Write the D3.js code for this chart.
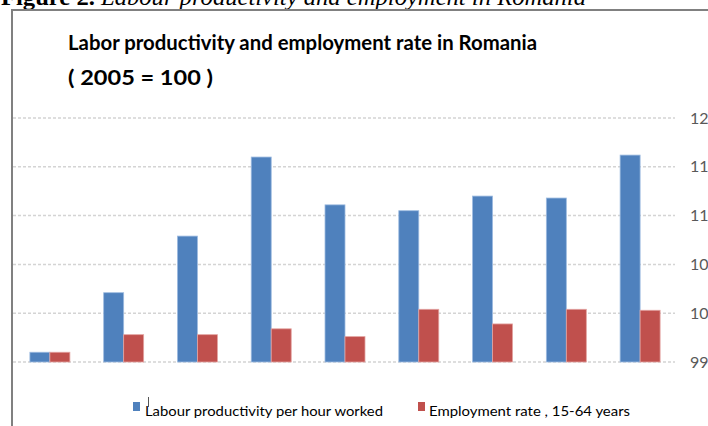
<!DOCTYPE html>
<html>
<head>
<meta charset="utf-8">
<script src="https://cdn.jsdelivr.net/npm/d3@7"></script>
<style>
  html, body { margin: 0; padding: 0; background: #fff; overflow: hidden; }
  svg { display: block; }
</style>
</head>
<body>
<svg id="chart" width="708" height="426"></svg>
<script>
// ---- data ----
const years = ["2005","2006","2007","2008","2009","2010","2011","2012","2013"];
const productivity = [100, 106.1, 111.9, 120.0, 115.1, 114.5, 116.0, 115.8, 120.2];
const employment   = [100, 101.8, 101.8, 102.4, 101.6, 104.4, 102.9, 104.4, 104.3];
const yTicks = [99, 104, 109, 114, 119, 124];
const seriesNames = ["Labour productivity per hour worked", "Employment rate , 15-64 years"];
const seriesColors = ["#4f81bd", "#c0504d"];
const seriesStrokes = ["#9dbbe0", "#e3a3a1"];

const svg = d3.select("#chart");

// figure caption (cut off at top)
const cap = svg.append("text")
  .attr("x", 1).attr("y", 5)
  .attr("font-family", "'Liberation Serif', 'Times New Roman', serif")
  .attr("font-size", 24).attr("fill", "#000")
  .attr("textLength", 585).attr("lengthAdjust", "spacingAndGlyphs");
cap.append("tspan").attr("font-weight", "bold").text("Figure 2. ");
cap.append("tspan").attr("font-style", "italic").text("Labour productivity and employment in Romania");

// frame
svg.append("path")
  .attr("d", "M12,430 L12,10 L712,10")
  .attr("fill", "none").attr("stroke", "#808080").attr("stroke-width", 2);

// title
svg.append("text")
  .attr("x", 68).attr("y", 50)
  .attr("font-family", "Lato, 'Open Sans', sans-serif")
  .attr("font-weight", "bold").attr("font-size", 21.5).attr("fill", "#000")
  .attr("textLength", 469).attr("lengthAdjust", "spacingAndGlyphs")
  .text("Labor productivity and employment rate in Romania");
svg.append("text")
  .attr("x", 68).attr("y", 85)
  .attr("font-family", "Lato, 'Open Sans', sans-serif")
  .attr("font-weight", "bold").attr("font-size", 21.5).attr("fill", "#000")
  .attr("textLength", 145).attr("lengthAdjust", "spacingAndGlyphs")
  .text("( 2005 = 100 )");

// scales
const x0 = d3.scaleBand().domain(years).range([13, 677]).paddingInner(0.458).paddingOuter(0.229);
const x1 = d3.scaleBand().domain([0, 1]).range([0, x0.bandwidth()]);
const y = d3.scaleLinear().domain([99, 124]).range([362, 118]);

// gridlines
svg.append("g").selectAll("line").data(yTicks).join("line")
  .attr("x1", 13).attr("x2", 675)
  .attr("y1", d => y(d)).attr("y2", d => y(d))
  .attr("stroke", "#d4d4d4").attr("stroke-width", 1.5).attr("stroke-dasharray", "3,2");

// right axis labels (cut off by the edge)
const axis = d3.axisRight(y).tickValues(yTicks).tickSize(0).tickPadding(0);
const gAxis = svg.append("g").attr("transform", "translate(690,0)").call(axis);
gAxis.select(".domain").remove();
gAxis.selectAll("text")
  .attr("font-family", "Lato, 'Open Sans', sans-serif")
  .attr("font-size", 16).attr("fill", "#595959");

// bars
const rows = years.map((yr, i) => ({ yr, vals: [productivity[i], employment[i]] }));
const groups = svg.append("g").selectAll("g").data(rows).join("g")
  .attr("transform", d => `translate(${x0(d.yr)},0)`);
groups.selectAll("rect").data(d => d.vals.map((v, k) => ({ v, k }))).join("rect")
  .attr("x", d => x1(d.k))
  .attr("width", x1.bandwidth())
  .attr("y", d => y(d.v))
  .attr("height", d => y(99) - y(d.v))
  .attr("fill", d => seriesColors[d.k])
  .attr("stroke", d => seriesStrokes[d.k]).attr("stroke-width", 0.8);

// legend
const legendX = [133, 418];
const legendTextX = [145, 429];
const legendLen = [238, 201];
const lg = svg.append("g");
seriesNames.forEach((name, k) => {
  lg.append("rect").attr("x", legendX[k]).attr("y", 402).attr("width", 7).attr("height", 9)
    .attr("fill", seriesColors[k]);
  lg.append("text").attr("x", legendTextX[k]).attr("y", 416)
    .attr("font-family", "Lato, 'Open Sans', sans-serif")
    .attr("font-size", 14).attr("fill", "#000")
    .attr("textLength", legendLen[k]).attr("lengthAdjust", "spacingAndGlyphs")
    .text(name);
});
// small cursor mark
lg.append("line").attr("x1", 148.5).attr("x2", 148.5).attr("y1", 397).attr("y2", 407)
  .attr("stroke", "#555").attr("stroke-width", 1);
</script>
</body>
</html>
